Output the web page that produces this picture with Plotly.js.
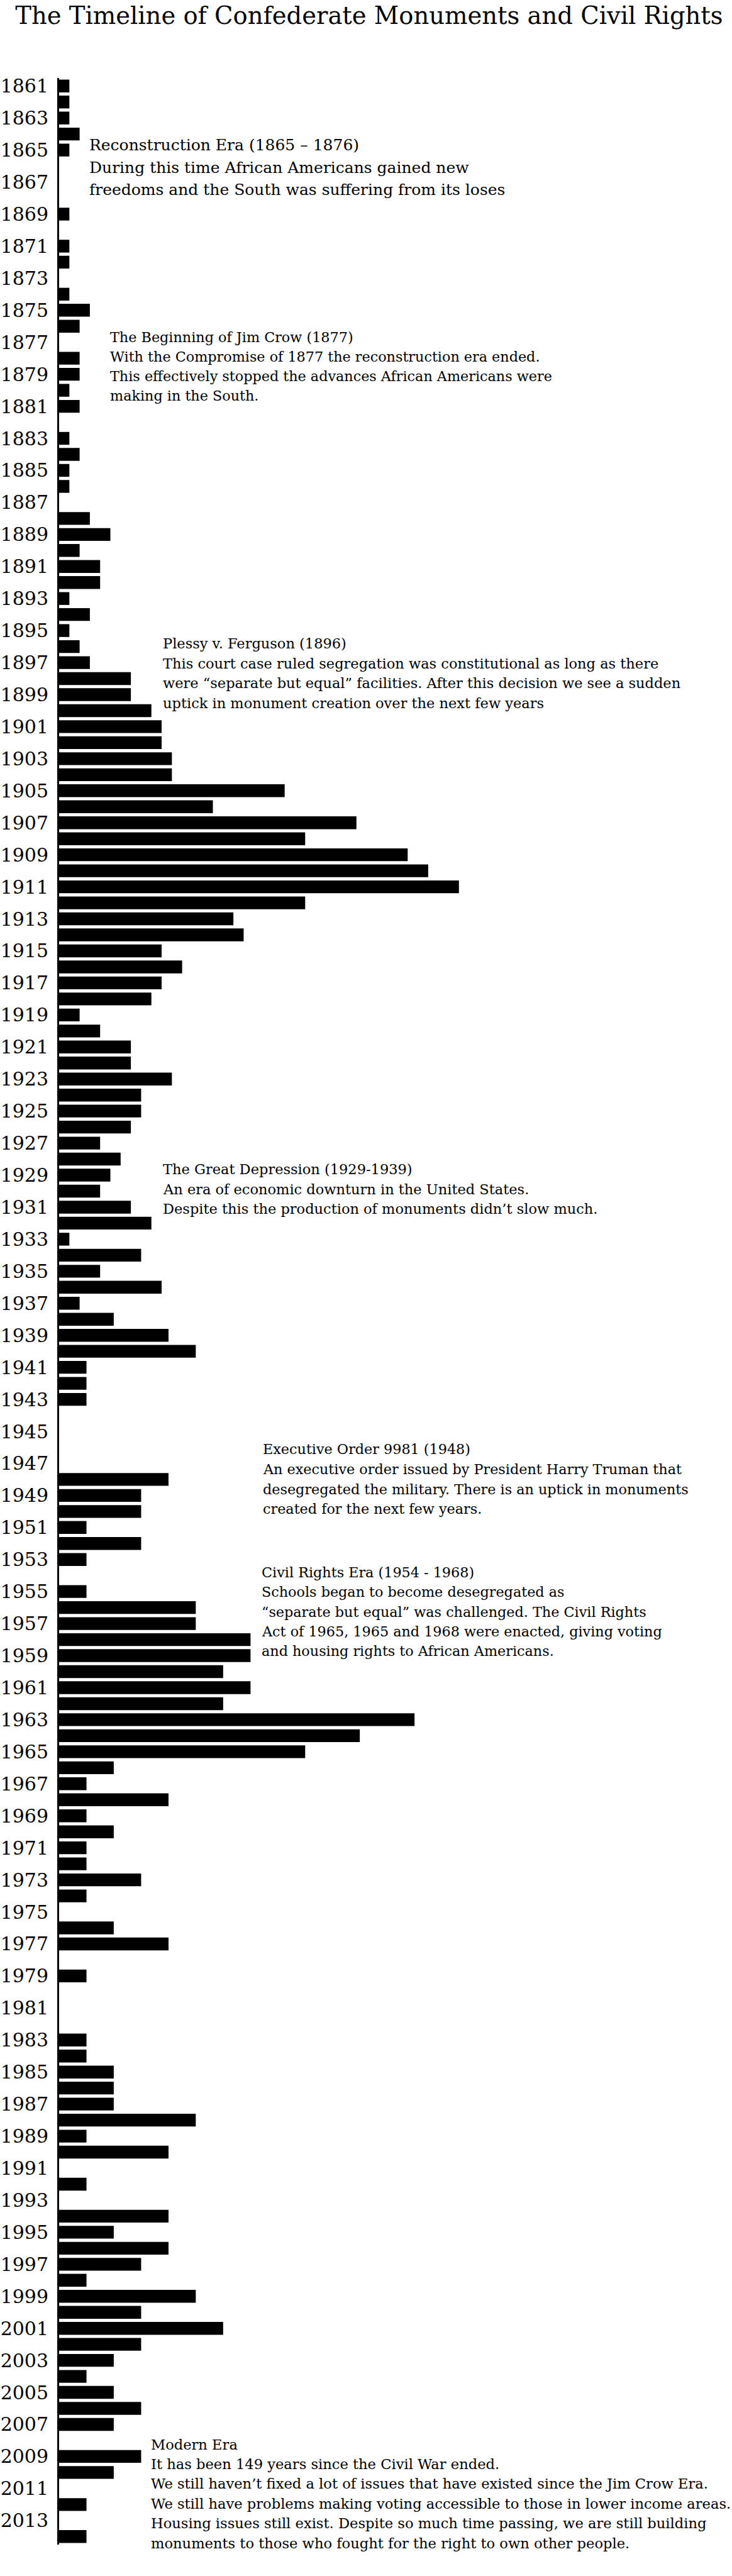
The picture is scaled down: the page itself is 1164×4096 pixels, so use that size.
<!DOCTYPE html>
<html>
<head>
<meta charset="utf-8">
<script src="https://cdn.plot.ly/plotly-3.0.1.min.js"></script>
<style>
  html, body { margin: 0; padding: 0; background: #ffffff; }
  #chart { width: 1164px; height: 4096px; }
</style>
</head>
<body>
<div id="chart"></div>
<script>
// ---------- DATA ----------
const years = [
  1861,1862,1863,1864,1865,1866,1867,1868,1869,1870,
  1871,1872,1873,1874,1875,1876,1877,1878,1879,1880,
  1881,1882,1883,1884,1885,1886,1887,1888,1889,1890,
  1891,1892,1893,1894,1895,1896,1897,1898,1899,1900,
  1901,1902,1903,1904,1905,1906,1907,1908,1909,1910,
  1911,1912,1913,1914,1915,1916,1917,1918,1919,1920,
  1921,1922,1923,1924,1925,1926,1927,1928,1929,1930,
  1931,1932,1933,1934,1935,1936,1937,1938,1939,1940,
  1941,1942,1943,1944,1945,1946,1947,1948,1949,1950,
  1951,1952,1953,1954,1955,1956,1957,1958,1959,1960,
  1961,1962,1963,1964,1965,1966,1967,1968,1969,1970,
  1971,1972,1973,1974,1975,1976,1977,1978,1979,1980,
  1981,1982,1983,1984,1985,1986,1987,1988,1989,1990,
  1991,1992,1993,1994,1995,1996,1997,1998,1999,2000,
  2001,2002,2003,2004,2005,2006,2007,2008,2009,2010,
  2011,2012,2013,2014
];

const monuments = [
  1,1,1,2,1,0,0,0,1,0,
  1,1,0,1,3,2,0,2,2,1,
  2,0,1,2,1,1,0,3,5,2,
  4,4,1,3,1,2,3,7,7,9,
  10,10,11,11,22,15,29,24,34,36,
  39,24,17,18,10,12,10,9,2,4,
  7,7,11,8,8,7,4,6,5,4,
  7,9,1,8,4,10,2,5.33,10.67,13.33,
  2.67,2.67,2.67,0,0,0,0,10.67,8,8,
  2.67,8,2.67,0,2.67,13.33,13.33,18.67,18.67,16,
  18.67,16,34.67,29.33,24,5.33,2.67,10.67,2.67,5.33,
  2.67,2.67,8,2.67,0,5.33,10.67,0,2.67,0,
  0,0,2.67,2.67,5.33,5.33,5.33,13.33,2.67,10.67,
  0,2.67,0,10.67,5.33,10.67,8,2.67,13.33,8,
  16,8,5.33,2.67,5.33,8,5.33,0,8,5.33,
  0,2.67,0,2.67
];

const tickYears = [
  1861,1863,1865,1867,1869,1871,1873,1875,1877,1879,
  1881,1883,1885,1887,1889,1891,1893,1895,1897,1899,
  1901,1903,1905,1907,1909,1911,1913,1915,1917,1919,
  1921,1923,1925,1927,1929,1931,1933,1935,1937,1939,
  1941,1943,1945,1947,1949,1951,1953,1955,1957,1959,
  1961,1963,1965,1967,1969,1971,1973,1975,1977,1979,
  1981,1983,1985,1987,1989,1991,1993,1995,1997,1999,
  2001,2003,2005,2007,2009,2011,2013
];
const tickLabels = tickYears.map(String);

const titleText = "The Timeline of Confederate Monuments and Civil Rights";

const noteReconstruction = [
  "Reconstruction Era (1865 \u2013 1876)",
  "During this time African Americans gained new",
  "freedoms and the South was suffering from its loses"
];
const noteJimCrow = [
  "The Beginning of Jim Crow (1877)",
  "With the Compromise of 1877 the reconstruction era ended.",
  "This effectively stopped the advances African Americans were",
  "making in the South."
];
const notePlessy = [
  "Plessy v. Ferguson (1896)",
  "This court case ruled segregation was constitutional as long as there",
  "were \u201cseparate but equal\u201d facilities. After this decision we see a sudden",
  "uptick in monument creation over the next few years"
];
const noteDepression = [
  "The Great Depression (1929-1939)",
  "An era of economic downturn in the United States.",
  "Despite this the production of monuments didn\u2019t slow much."
];
const noteExecutive = [
  "Executive Order 9981 (1948)",
  "An executive order issued by President Harry Truman that",
  "desegregated the military. There is an uptick in monuments",
  "created for the next few years."
];
const noteCivilRights = [
  "Civil Rights Era (1954 - 1968)",
  "Schools began to become desegregated as",
  "\u201cseparate but equal\u201d was challenged. The Civil Rights",
  "Act of 1965, 1965 and 1968 were enacted, giving voting",
  "and housing rights to African Americans."
];
const noteModern = [
  "Modern Era",
  "It has been 149 years since the Civil War ended.",
  "We still haven\u2019t fixed a lot of issues that have existed since the Jim Crow Era.",
  "We still have problems making voting accessible to those in lower income areas.",
  "Housing issues still exist. Despite so much time passing, we are still building",
  "monuments to those who fought for the right to own other people."
];

// ---------- LAYOUT GEOMETRY ----------
const W = 1164, H = 4096;
const ML = 93.5, MR = 10, MT = 123.6, MB = 49.7;
const UNIT = 16.31;                 // px per value unit
const plotW = W - ML - MR;
const plotH = H - MT - MB;
const yLo = 1860.5, yHi = 2014.5;
const ROW = plotH / (yHi - yLo);
const FONT = "DejaVu Serif";

function xAt(px) { return (px - ML) / UNIT; }
function yAt(py) { return yLo + (py - MT) / ROW; }

const annotations = [];
function addNote(lines, left, firstY, pitch, size) {
  lines.forEach((t, i) => {
    annotations.push({
      xref: 'x', yref: 'y',
      x: xAt(left), y: yAt(firstY + i * pitch),
      xanchor: 'left', yanchor: 'middle',
      text: t, showarrow: false,
      font: { family: FONT, size: size, color: '#000000' }
    });
  });
}

addNote(noteReconstruction, 139.4, 230.3, 35.6, 25);
addNote(noteJimCrow,        172.8, 535.2, 31.2, 22.3);
addNote(notePlessy,         256.2, 1023.0, 31.6, 22.5);
addNote(noteDepression,     256.2, 1859.2, 31.4, 22.5);
addNote(noteExecutive,      415.6, 2304.2, 31.7, 22.3);
addNote(noteCivilRights,    414.0, 2499.8, 31.4, 22.3);
addNote(noteModern,         237.4, 3886.8, 31.4, 22.6);

const trace = {
  type: 'bar',
  orientation: 'h',
  x: monuments,
  y: years,
  width: 0.8,
  marker: { color: '#000000', line: { width: 0 } },
  hoverinfo: 'skip'
};

const layout = {
  width: W, height: H,
  margin: { l: ML, r: MR, t: MT, b: MB, pad: 0 },
  paper_bgcolor: '#ffffff',
  plot_bgcolor: '#ffffff',
  showlegend: false,
  title: {
    text: titleText,
    font: { family: FONT, size: 38.5, color: '#000000' },
    x: 586.9 / W, xanchor: 'center', xref: 'container',
    y: 1 - 25 / H, yanchor: 'middle', yref: 'container'
  },
  xaxis: {
    range: [0, plotW / UNIT],
    showgrid: false, zeroline: false, showline: false,
    showticklabels: false, ticks: '', fixedrange: true
  },
  yaxis: {
    range: [yHi, yLo],
    tickmode: 'array',
    tickvals: tickYears,
    ticktext: tickLabels,
    ticks: '',
    ticklabelstandoff: 8,
    showgrid: false, zeroline: false,
    showline: true, linecolor: '#000000', linewidth: 3,
    tickfont: { family: FONT, size: 30, color: '#000000' },
    fixedrange: true
  },
  annotations: annotations
};

Plotly.newPlot('chart', [trace], layout, { staticPlot: true, displayModeBar: false });
</script>
</body>
</html>
